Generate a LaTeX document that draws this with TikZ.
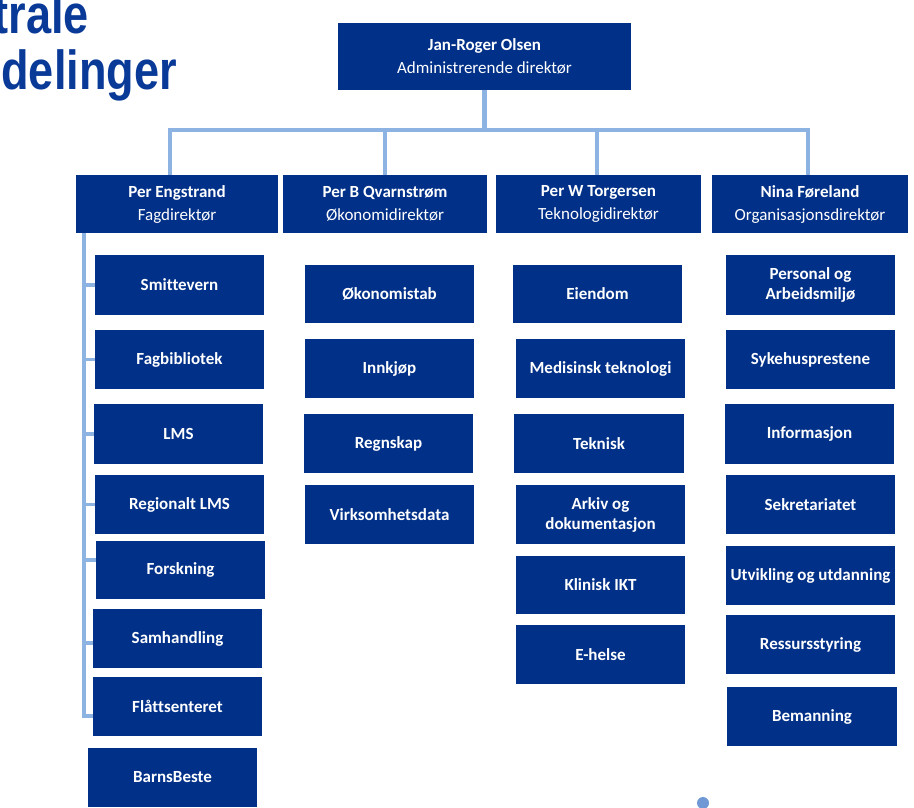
\documentclass[tikz,border=0pt]{standalone}
\usepackage{fontspec}
\usepackage{graphicx}
\setmainfont{Carlito}[Ligatures=NoCommon]
\newfontfamily\titlefont{Liberation Sans}
\definecolor{boxblue}{RGB}{0,48,135}
\definecolor{connblue}{RGB}{141,179,226}
\definecolor{titleblue}{RGB}{10,58,152}
\definecolor{dotblue}{RGB}{112,152,212}
\tikzset{
  box/.style={fill=boxblue, text=white, inner sep=0pt, align=center,
    minimum width=169pt, minimum height=59pt,
    font=\bfseries\fontsize{17}{20}\selectfont},
  headbox/.style={fill=boxblue, text=white, inner sep=0pt, align=center,
    font=\fontsize{17}{23}\selectfont},
  conn/.style={draw=connblue, line width=4.5pt},
  spine/.style={draw=connblue, line width=3.5pt},
  titletext/.style={text=titleblue, inner sep=0pt, anchor=base east,
    font=\titlefont\bfseries\fontsize{55}{57}\selectfont}
}
\begin{document}
\begin{tikzpicture}[x=1pt,y=-1pt]
\useasboundingbox (0,0) rectangle (914,808);
\clip (0,0) rectangle (914,808);
\fill[white] (0,0) rectangle (914,808);

% title
\node[titletext] (t1) at (89,34) {\scalebox{0.82}[1]{trale}};
\node[titletext] (t2) at (177,90) {\scalebox{0.82}[1]{delinger}};

% top
\node[headbox, minimum width=293pt, minimum height=67pt] (top) at (484.5,56.5)
  {\textbf{Jan-Roger Olsen}\\Administrerende direktør};

% level 2
\node[headbox, minimum width=202pt, minimum height=58pt] (eng) at (177,204)
  {\textbf{Per Engstrand}\\Fagdirektør};
\node[headbox, minimum width=204pt, minimum height=58pt] (qva) at (385,204)
  {\textbf{Per B Qvarnstrøm}\\Økonomidirektør};
\node[headbox, minimum width=205pt, minimum height=58pt] (tor) at (598.5,204)
  {\textbf{Per W Torgersen}\\Teknologidirektør};
\node[headbox, minimum width=196pt, minimum height=58pt] (nin) at (810,204)
  {\textbf{Nina Føreland}\\Organisasjonsdirektør};

% column 1
\node[box, minimum height=60pt] (smitt) at (179.5,285) {Smittevern};
\node[box] (fagbib) at (179.5,359.5) {Fagbibliotek};
\node[box, minimum height=60pt] (lms) at (178.5,434) {LMS};
\node[box] (reglms) at (179.5,504.5) {Regionalt LMS};
\node[box, minimum height=58pt] (forsk) at (180.5,570) {Forskning};
\node[box] (samh) at (177.5,638.5) {Samhandling};
\node[box] (flatt) at (177.5,706.5) {Flåttsenteret};
\node[box] (barns) at (172.5,777.5) {BarnsBeste};

% column 2
\node[box, minimum height=58pt] (okstab) at (389.5,294) {Økonomistab};
\node[box] (innkj) at (389.5,368.5) {Innkjøp};
\node[box] (regn) at (388.5,443.5) {Regnskap};
\node[box] (virk) at (389.5,514.5) {Virksomhetsdata};

% column 3
\node[box, minimum height=58pt] (eiend) at (597.5,294) {Eiendom};
\node[box] (medtek) at (600.5,368.5) {Medisinsk teknologi};
\node[box, minimum width=170pt] (tekn) at (599,443.5) {Teknisk};
\node[box] (arkiv) at (600.5,514.5) {Arkiv og\\dokumentasjon};
\node[box, minimum height=58pt] (klin) at (600.5,585) {Klinisk IKT};
\node[box] (ehelse) at (600.5,654.5) {E-helse};

% column 4
\node[box, minimum height=60pt] (pers) at (810.5,285) {Personal og\\Arbeidsmiljø};
\node[box] (syke) at (810.5,359.5) {Sykehusprestene};
\node[box, minimum height=60pt] (info) at (809.5,434) {Informasjon};
\node[box] (sekr) at (810.5,504.5) {Sekretariatet};
\node[box] (utv) at (810.5,575.5) {Utvikling og utdanning};
\node[box] (ress) at (810.5,644.5) {Ressursstyring};
\node[box, minimum width=170pt] (beman) at (812,716.5) {Bemanning};

% connectors top level
\coordinate (hl) at (0,130);
\coordinate (c1) at (170,130);
\coordinate (c2) at (385,130);
\coordinate (c3) at (597,130);
\coordinate (c4) at (808,130);
\draw[conn] (top.south) -- (top.south |- hl);
\draw[conn, line join=miter] (c1 |- eng.north) -- (c1) -- (c4) -- (c4 |- nin.north);
\draw[conn] (c2) -- (c2 |- qva.north);
\draw[conn] (c3) -- (c3 |- tor.north);

% spine of column 1
\coordinate (sp) at (84,0);
\coordinate (fk) at ([yshift=10pt]forsk.west);
\coordinate (sh) at ([yshift=-4.5pt]samh.west);
\coordinate (fl) at ([yshift=-9.5pt]flatt.west);
\draw[spine, line join=miter] (eng.south -| sp) |- (fl);
\draw[spine] (sp |- smitt.west) -- (smitt.west);
\draw[spine] (sp |- fagbib.west) -- (fagbib.west);
\draw[spine] (sp |- lms.west) -- (lms.west);
\draw[spine] (sp |- reglms.west) -- (reglms.west);
\draw[spine] (fk -| sp) -- (fk);
\draw[spine] (sh -| sp) -- (sh);

% dot
\node[circle, fill=dotblue, inner sep=0pt, minimum size=12pt] (dot) at (703,803) {};
\end{tikzpicture}
\end{document}
